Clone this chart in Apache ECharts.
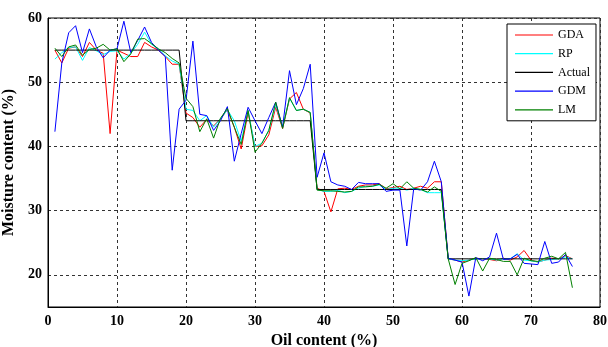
<!DOCTYPE html>
<html>
<head>
<meta charset="utf-8">
<script src="https://cdn.jsdelivr.net/npm/echarts@6/dist/echarts.min.js"></script>
<style>
  html, body { margin: 0; padding: 0; background: #fff; }
  #chart { width: 608px; height: 347px; }
</style>
</head>
<body>
<div id="chart"></div>
<script>
// oil content (%) of each sample
const oil = [1, 2, 3, 4, 5, 6, 7, 8, 9, 10, 11, 12, 13, 14, 15, 16, 17, 18, 19,
    20, 21, 22, 23, 24, 25, 26, 27, 28, 29, 30, 31, 32, 33, 34, 35, 36, 37, 38,
    39, 40, 41, 42, 43, 44, 45, 46, 47, 48, 49, 50, 51, 52, 53, 54, 55, 56, 57,
    58, 59, 60, 61, 62, 63, 64, 65, 66, 67, 68, 69, 70, 71, 72, 73, 74, 75, 76];

const gda = [55, 53, 55.3, 55.5, 54, 56.2, 55, 54.5, 42, 55, 54.5, 54, 54, 56.2, 55.5, 55, 54, 52.8, 52.8,
    45.2, 44.5, 43, 44.2, 43.2, 44.3, 45.7, 43, 39.6, 45.3, 40, 40.1, 41.8, 46.1, 42.8, 47.4, 48.4, 45.8, 45.2,
    33.5, 33, 29.8, 33.4, 33.5, 33.3, 33.8, 34, 34, 34.2, 33.4, 33.6, 33.8, 33.3, 33.5, 33.8, 33.5, 34.5, 34.5,
    22.5, 22.3, 22, 22.3, 22.6, 22.5, 22.4, 22.2, 22.6, 22.3, 22.8, 23.8, 22.3, 22, 22.3, 22.6, 22.5, 23, 22.5];

const rp = [53.6, 54.6, 55.4, 55.5, 53.4, 55.4, 54.9, 54.3, 54.8, 54.9, 53.6, 54.5, 55.9, 57.8, 55.9, 55.2, 54.1, 53.3, 52.8,
    45.8, 45.6, 44, 44.8, 43, 44.3, 45.7, 44, 40.8, 45.6, 40, 40.5, 42.5, 46.5, 43, 47.5, 45.6, 45.8, 45.3,
    33.3, 33, 33, 33.2, 32.8, 33, 33.5, 33.8, 33.8, 34, 33.3, 33.5, 33.5, 33.2, 33.5, 33.3, 32.8, 32.8, 32.8,
    22.5, 22.3, 22.2, 22.3, 22.5, 22.5, 22.5, 22.3, 22.5, 22.5, 23.3, 22.3, 22.2, 22, 22.3, 22.4, 22.5, 22.8, 22.5];

const actual = [55, 55, 55, 55, 55, 55, 55, 55, 55, 55, 55, 55, 55, 55, 55, 55, 55, 55, 55,
    44, 44, 44, 44, 44, 44, 44, 44, 44, 44, 44, 44, 44, 44, 44, 44, 44, 44, 44,
    33.3, 33.3, 33.3, 33.3, 33.3, 33.3, 33.3, 33.3, 33.3, 33.3, 33.3, 33.3, 33.3, 33.3, 33.3, 33.3, 33.3, 33.3, 33.3,
    22.5, 22.5, 22.5, 22.5, 22.5, 22.5, 22.5, 22.5, 22.5, 22.5, 22.5, 22.5, 22.5, 22.5, 22.5, 22.5, 22.5, 22.5, 22.5];

const gdm = [42.3, 53, 57.7, 58.8, 54.6, 58.3, 55.5, 53.8, 55, 55.2, 59.5, 54.6, 56.5, 58.6, 56.2, 55, 54, 36.3, 45.8,
    47.2, 56.4, 45, 44.8, 42.5, 44, 46.2, 37.7, 42, 46.1, 44, 42, 44.5, 46.9, 43, 51.8, 46.5, 49, 52.8,
    35.2, 39, 34.5, 34, 33.8, 33.3, 34.4, 34.2, 34.2, 34.2, 33, 33.2, 33.2, 24.5, 33.4, 33.2, 34.5, 37.7, 34.5,
    22.6, 22.3, 22, 16.7, 22.7, 22.2, 22.8, 26.5, 22.4, 22.5, 23.2, 21.8, 21.7, 21.6, 25.2, 21.8, 22, 23.2, 21.3];

const lm = [55.3, 54, 55.5, 55.8, 54.2, 55.1, 55.3, 55.9, 55, 55.2, 53.2, 54.4, 56.7, 56.8, 56, 55.2, 54.6, 53.7, 53,
    47.5, 46.2, 42.3, 44.3, 41.3, 44.4, 45.9, 43, 40.3, 45.6, 39.1, 40.5, 42.5, 46.9, 42.8, 47.6, 45.6, 45.8, 45.3,
    33.2, 33.1, 33.1, 33, 32.9, 33, 33.7, 33.7, 33.8, 34.1, 33.5, 34.2, 33.4, 34.5, 33.5, 33.3, 32.9, 33.7, 33,
    22.5, 18.5, 21.8, 22.2, 22.7, 20.6, 22.6, 22.4, 22.1, 22.1, 20, 22.6, 22.2, 22.1, 22.6, 22.9, 22.5, 23.5, 18];

const seriesNames = ['GDA', 'RP', 'Actual', 'GDM', 'LM'];
const seriesData = [gda, rp, actual, gdm, lm];
const seriesColors = ['#ff0000', '#00ffff', '#000000', '#0000ff', '#008000'];

const serif = '"Liberation Serif", "DejaVu Serif", serif';

const chart = echarts.init(document.getElementById('chart'));

chart.setOption({
    animation: false,
    backgroundColor: '#fff',
    grid: {
        left: 48, right: 8, top: 18, bottom: 40,
        outerBoundsMode: 'none',
        containLabel: false,
        show: true, borderColor: '#000', borderWidth: 1
    },
    legend: {
        data: seriesNames,
        orient: 'vertical',
        left: 507, top: 24,
        padding: [5, 6, 5, 8],
        itemGap: 6.7,
        itemWidth: 38,
        itemHeight: 1.2,
        icon: 'rect',
        backgroundColor: '#fff',
        borderColor: '#000',
        borderWidth: 1,
        textStyle: { fontFamily: serif, fontSize: 12, lineHeight: 12, color: '#000' }
    },
    xAxis: {
        type: 'value',
        min: 0, max: 80, interval: 10,
        name: 'Oil content (%)',
        nameLocation: 'middle',
        nameGap: 20,
        nameTextStyle: { fontFamily: serif, fontSize: 16, fontWeight: 'bold', color: '#000' },
        axisLine: { show: true, lineStyle: { color: '#000' } },
        axisTick: { show: false },
        axisLabel: { fontFamily: serif, fontSize: 14, fontWeight: 'bold', color: '#000', margin: 7 },
        splitLine: { show: true, lineStyle: { color: '#333', type: [3, 3], width: 1 } }
    },
    yAxis: {
        type: 'value',
        min: 15, max: 60, interval: 5,
        name: 'Moisture content (%)',
        nameLocation: 'middle',
        nameGap: 25,
        nameTextStyle: { fontFamily: serif, fontSize: 16, fontWeight: 'bold', color: '#000' },
        axisLine: { show: true, lineStyle: { color: '#000' } },
        axisTick: { show: false },
        axisLabel: {
            fontFamily: serif, fontSize: 14, fontWeight: 'bold', color: '#000', margin: 6,
            formatter: v => (v % 10 === 0 ? String(v) : '')
        },
        splitLine: {
            show: true,
            lineStyle: { color: ['transparent', '#333'], type: [3, 3], width: 1 }
        }
    },
    series: seriesNames.map((name, i) => ({
        name: name,
        type: 'line',
        data: oil.map((x, j) => [x, seriesData[i][j]]),
        showSymbol: false,
        symbol: 'none',
        lineStyle: { color: seriesColors[i], width: 1 },
        itemStyle: { color: seriesColors[i] },
        emphasis: { disabled: true }
    }))
});
</script>
</body>
</html>
